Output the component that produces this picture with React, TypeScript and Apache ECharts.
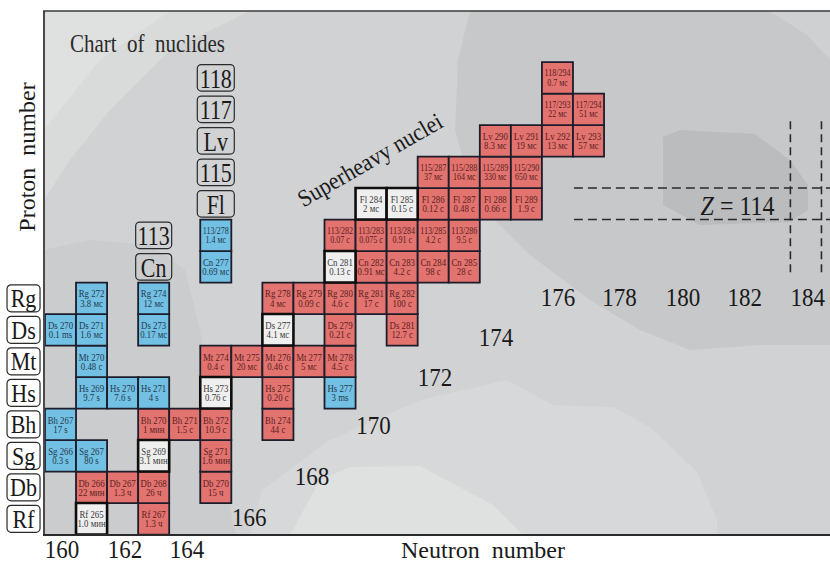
import React, { useEffect, useRef } from 'react';
import * as echarts from 'echarts';

const SERIF = "'Liberation Serif', 'Times New Roman', serif";

// Each nuclide: [neutron number N, proton number Z, name, half-life, kind]
// kind: 'b' = blue, 'r' = red, 'w' = white
const cellsZ104_105 = [
  [161, 104, 'Rf 265', '1.0 мин', 'w'],
  [163, 104, 'Rf 267', '1.3 ч', 'r'],
  [161, 105, 'Db 266', '22 мин', 'r'],
  [162, 105, 'Db 267', '1.3 ч', 'r'],
  [163, 105, 'Db 268', '26 ч', 'r'],
  [165, 105, 'Db 270', '15 ч', 'r'],
];
const cellsZ106_107 = [
  [160, 106, 'Sg 266', '0.3 s', 'b'],
  [161, 106, 'Sg 267', '80 s', 'b'],
  [163, 106, 'Sg 269', '3.1 мин', 'w'],
  [165, 106, 'Sg 271', '1.6 мин', 'r'],
  [160, 107, 'Bh 267', '17 s', 'b'],
  [163, 107, 'Bh 270', '1 мин', 'r'],
  [164, 107, 'Bh 271', '1.5 с', 'r'],
  [165, 107, 'Bh 272', '10.9 с', 'r'],
  [167, 107, 'Bh 274', '44 с', 'r'],
];
const cellsZ108_109 = [
  [161, 108, 'Hs 269', '9.7 s', 'b'],
  [162, 108, 'Hs 270', '7.6 s', 'b'],
  [163, 108, 'Hs 271', '4 s', 'b'],
  [165, 108, 'Hs 273', '0.76 с', 'w'],
  [167, 108, 'Hs 275', '0.20 с', 'r'],
  [169, 108, 'Hs 277', '3 ms', 'b'],
  [161, 109, 'Mt 270', '0.48 с', 'b'],
  [165, 109, 'Mt 274', '0.4 с', 'r'],
  [166, 109, 'Mt 275', '20 мс', 'r'],
  [167, 109, 'Mt 276', '0.46 с', 'r'],
  [168, 109, 'Mt 277', '5 мс', 'r'],
  [169, 109, 'Mt 278', '4.5 с', 'r'],
];
const cellsZ110_111 = [
  [160, 110, 'Ds 270', '0.1 ms', 'b'],
  [161, 110, 'Ds 271', '1.6 мс', 'b'],
  [163, 110, 'Ds 273', '0.17 мс', 'b'],
  [167, 110, 'Ds 277', '4.1 мс', 'w'],
  [169, 110, 'Ds 279', '0.21 с', 'r'],
  [171, 110, 'Ds 281', '12.7 с', 'r'],
  [161, 111, 'Rg 272', '3.8 мс', 'b'],
  [163, 111, 'Rg 274', '12 мс', 'b'],
  [167, 111, 'Rg 278', '4 мс', 'r'],
  [168, 111, 'Rg 279', '0.09 с', 'r'],
  [169, 111, 'Rg 280', '4.6 с', 'r'],
  [170, 111, 'Rg 281', '17 с', 'r'],
  [171, 111, 'Rg 282', '100 с', 'r'],
];
const cellsZ112_113 = [
  [165, 112, 'Cn 277', '0.69 мс', 'b'],
  [169, 112, 'Cn 281', '0.13 с', 'w'],
  [170, 112, 'Cn 282', '0.91 мс', 'r'],
  [171, 112, 'Cn 283', '4.2 с', 'r'],
  [172, 112, 'Cn 284', '98 с', 'r'],
  [173, 112, 'Cn 285', '28 с', 'r'],
  [165, 113, '113/278', '1.4 мс', 'b'],
  [169, 113, '113/282', '0.07 с', 'r'],
  [170, 113, '113/283', '0.075 с', 'r'],
  [171, 113, '113/284', '0.91 с', 'r'],
  [172, 113, '113/285', '4.2 с', 'r'],
  [173, 113, '113/286', '9.5 с', 'r'],
];
const cellsZ114_115 = [
  [170, 114, 'Fl 284', '2 мс', 'w'],
  [171, 114, 'Fl 285', '0.15 с', 'w'],
  [172, 114, 'Fl 286', '0.12 с', 'r'],
  [173, 114, 'Fl 287', '0.48 с', 'r'],
  [174, 114, 'Fl 288', '0.66 с', 'r'],
  [175, 114, 'Fl 289', '1.9 с', 'r'],
  [172, 115, '115/287', '37 мс', 'r'],
  [173, 115, '115/288', '164 мс', 'r'],
  [174, 115, '115/289', '330 мс', 'r'],
  [175, 115, '115/290', '650 мс', 'r'],
];
const cellsZ116_118 = [
  [174, 116, 'Lv 290', '8.3 мс', 'r'],
  [175, 116, 'Lv 291', '19 мс', 'r'],
  [176, 116, 'Lv 292', '13 мс', 'r'],
  [177, 116, 'Lv 293', '57 мс', 'r'],
  [176, 117, '117/293', '22 мс', 'r'],
  [177, 117, '117/294', '51 мс', 'r'],
  [176, 118, '118/294', '0.7 мс', 'r'],
];

// element labels
const leftSymbols = ['Rf', 'Db', 'Sg', 'Bh', 'Hs', 'Mt', 'Ds', 'Rg'];
const leftSymbolZ = [104, 105, 106, 107, 108, 109, 110, 111];
const leftSymbolN = 158.81;
const innerSymbols = ['Cn', '113', 'Fl', '115', 'Lv', '117', '118'];
const innerSymbolN = [163, 163, 165, 165, 165, 165, 165];
const innerSymbolZ = [112, 113, 114, 115, 116, 117, 118];

// neutron-number tick labels
const diagNumbers = ['166', '168', '170', '172', '174'];
const diagNumberN = [166.08, 168.1, 170.08, 172.06, 174.02];
const diagNumberZ = [104.04, 105.35, 106.99, 108.49, 109.78];
const topNumbers = ['176', '178', '180', '182', '184'];
const topNumberN = [176.02, 178.0, 180.04, 182.03, 184.06];
const topNumberZ = 111.05;
const bottomNumbers = ['160', '162', '164'];
const bottomNumberN = [160.05, 162.08, 164.07];
const bottomNumberZ = 103.05;

// shell closures
const shellZ = [113.5, 114.5];
const shellZFromN = 176.53;
const shellN = [183.5, 184.5];
const shellNZRange = [111.83, 116.72];

const X_MIN = 159.469;
const X_MAX = 184.775;
const Y_MIN = 103.486;
const Y_MAX = 120.12;

const CELL_FILL: Record<string, string> = { b: '#72c1e4', r: '#e3736f', w: '#efefef' };
const CELL_TEXT: Record<string, string> = { b: '#26384c', r: '#5a2222', w: '#3a3a3a' };

export default function App() {
  const ref = useRef<HTMLDivElement>(null);

  useEffect(() => {
    if (!ref.current) return;
    const chart = echarts.init(ref.current, null, { renderer: 'svg' });

    const allCells: any[] = [
      ...cellsZ104_105, ...cellsZ106_107, ...cellsZ108_109, ...cellsZ110_111,
      ...cellsZ112_113, ...cellsZ114_115, ...cellsZ116_118,
    ];

    type Lbl = { n: number; z: number; text: string; kind: string };
    const labels: Lbl[] = [];
    leftSymbols.forEach((s, i) => labels.push({ n: leftSymbolN, z: leftSymbolZ[i], text: s, kind: 'boxL' }));
    innerSymbols.forEach((s, i) => labels.push({ n: innerSymbolN[i], z: innerSymbolZ[i], text: s, kind: innerSymbolN[i] === 163 ? 'boxI3' : 'boxI5' }));
    diagNumbers.forEach((s, i) => labels.push({ n: diagNumberN[i], z: diagNumberZ[i], text: s, kind: 'num' }));
    topNumbers.forEach((s, i) => labels.push({ n: topNumberN[i], z: topNumberZ, text: s, kind: 'num' }));
    bottomNumbers.forEach((s, i) => labels.push({ n: bottomNumberN[i], z: bottomNumberZ, text: s, kind: 'num' }));
    labels.push({ n: 169.96, z: 115.4, text: 'Superheavy nuclei', kind: 'rot' });
    labels.push({ n: 181.8, z: 113.92, text: '{i|Z} = 114', kind: 'zlab' });

    const bgPolys: { pts: number[][]; fill: string }[] = [
      { pts: [[44, 11], [250, 11], [170, 50], [110, 110], [70, 160], [44, 200]], fill: '#d9dada' },
      { pts: [[44, 11], [170, 11], [100, 60], [60, 110], [44, 130]], fill: '#dfe0e0' },
      { pts: [[470, 11], [830, 11], [830, 345], [760, 345], [690, 350], [640, 330], [590, 300], [530, 255], [475, 200], [455, 130], [458, 60]], fill: '#c7c8c9' },
      { pts: [[770, 11], [830, 11], [830, 60], [807, 35]], fill: '#cfd0d2' },
      { pts: [[663, 137], [680, 130], [755, 134], [790, 160], [808, 185], [808, 210], [790, 222], [700, 225], [663, 205]], fill: '#babcbe' },
      { pts: [[44, 250], [90, 240], [150, 245], [185, 270], [200, 330], [215, 420], [235, 535], [44, 535]], fill: '#cbcccd' },
      { pts: [[250, 535], [262, 490], [330, 440], [420, 400], [507, 380], [553, 405], [613, 407], [650, 427], [697, 472], [717, 520], [717, 535]], fill: '#d7d8d9' },
      { pts: [[290, 535], [320, 480], [350, 467], [420, 466], [493, 505], [523, 535]], fill: '#dfe0e0' },
    ];

    const graphic: any[] = [
      { type: 'rect', z: 0, shape: { x: 44, y: 11, width: 786, height: 524 }, style: { fill: '#d1d2d3' } },
      ...bgPolys.map((p) => ({ type: 'polygon', z: 0, shape: { points: p.pts }, style: { fill: p.fill } })),
      { type: 'line', z: 10, shape: { x1: 44, y1: 11, x2: 44, y2: 535 }, style: { stroke: '#4a4a4a', lineWidth: 2 } },
      { type: 'line', z: 10, shape: { x1: 43, y1: 11, x2: 830, y2: 11 }, style: { stroke: '#3a3a3a', lineWidth: 1.5 } },
      { type: 'line', z: 10, shape: { x1: 43, y1: 535, x2: 830, y2: 535 }, style: { stroke: '#2a2a2a', lineWidth: 2 } },
      { type: 'text', z: 10, x: 70, y: 44, scaleY: 1.15, style: { text: 'Chart  of  nuclides', fill: '#2a2a2a', fontSize: 21, fontFamily: SERIF, align: 'left', verticalAlign: 'middle' } },
      { type: 'text', z: 10, x: 483, y: 550, style: { text: 'Neutron  number', fill: '#1a1a1a', fontSize: 24, fontFamily: SERIF, align: 'center', verticalAlign: 'middle' } },
      { type: 'text', z: 10, x: 27, y: 157, rotation: Math.PI / 2, style: { text: 'Proton  number', fill: '#1a1a1a', fontSize: 24, fontFamily: SERIF, align: 'center', verticalAlign: 'middle' } },
    ];

    const lineSeries: any[] = [
      ...shellZ.map((z) => ({
        type: 'line', z: 4, symbol: 'none', silent: true,
        data: [[shellZFromN, z], [X_MAX + 1, z]],
        lineStyle: { color: '#2a2a2a', width: 1.6, type: [9, 5] },
      })),
      ...shellN.map((n) => ({
        type: 'line', z: 4, symbol: 'none', silent: true,
        data: [[n, shellNZRange[0]], [n, shellNZRange[1]]],
        lineStyle: { color: '#2a2a2a', width: 1.6, type: [8, 5] },
      })),
    ];

    chart.setOption({
      animation: false,
      grid: { left: 44, top: 11, right: 0, bottom: 28, containLabel: false },
      xAxis: { type: 'value', min: X_MIN, max: X_MAX, show: false },
      yAxis: { type: 'value', min: Y_MIN, max: Y_MAX, show: false },
      graphic,
      series: [
        ...lineSeries,
        {
          type: 'custom',
          z: 5,
          clip: false,
          data: allCells.map((c) => [c[0], c[1]]),
          encode: { x: 0, y: 1 },
          renderItem: (params: any, api: any) => {
            const c = allCells[params.dataIndex];
            const p = api.coord([c[0], c[1]]);
            const s = api.size([1, 1]);
            const kind = c[4];
            const small = String(c[2]).includes('/');
            const fs = small ? 8.0 : 8.8;
            return {
              type: 'group',
              children: [
                {
                  type: 'rect',
                  z2: kind === 'w' ? 3 : 1,
                  shape: { x: p[0] - s[0] / 2, y: p[1] - s[1] / 2, width: s[0], height: s[1] },
                  style: { fill: CELL_FILL[kind], stroke: kind === 'w' ? '#0e0e0e' : '#1d1d2b', lineWidth: kind === 'w' ? 2.6 : 1.8 },
                },
                {
                  type: 'text', z2: 6, x: p[0], y: p[1] - 4.6, scaleY: 1.2,
                  style: { text: c[2], fill: CELL_TEXT[kind], fontSize: fs, fontFamily: SERIF, align: 'center', verticalAlign: 'middle' },
                },
                {
                  type: 'text', z2: 6, x: p[0], y: p[1] + 4.8, scaleY: 1.2,
                  style: { text: c[3], fill: CELL_TEXT[kind], fontSize: fs, fontFamily: SERIF, align: 'center', verticalAlign: 'middle' },
                },
              ],
            };
          },
        },
        {
          type: 'custom',
          z: 6,
          clip: false,
          data: labels.map((l) => [l.n, l.z]),
          encode: { x: 0, y: 1 },
          renderItem: (params: any, api: any) => {
            const l = labels[params.dataIndex];
            const p = api.coord([l.n, l.z]);
            const children: any[] = [];
            if (l.kind === 'boxL' || l.kind === 'boxI3' || l.kind === 'boxI5') {
              const w = l.kind === 'boxL' ? 33 : l.kind === 'boxI3' ? 36 : 37;
              const h = l.kind === 'boxL' ? 27 : 26.5;
              children.push({
                type: 'rect',
                shape: { x: p[0] - w / 2, y: p[1] - h / 2, width: w, height: h, r: 4 },
                style: { fill: l.kind === 'boxL' ? '#ffffff' : 'rgba(0,0,0,0)', stroke: '#2a2a2a', lineWidth: 1.2 },
              });
              children.push({
                type: 'text', x: p[0], y: p[1] + 0.5, scaleY: l.kind === 'boxL' ? 1.1 : 1.22,
                style: { text: l.text, fill: '#1a1a1a', fontSize: 22, fontFamily: SERIF, align: 'center', verticalAlign: 'middle' },
              });
            } else if (l.kind === 'num') {
              children.push({
                type: 'text', x: p[0], y: p[1], scaleY: 1.1,
                style: { text: l.text, fill: '#1a1a1a', fontSize: 23, fontFamily: SERIF, align: 'center', verticalAlign: 'middle' },
              });
            } else if (l.kind === 'rot') {
              children.push({
                type: 'text', x: p[0], y: p[1], rotation: (30 * Math.PI) / 180, scaleY: 1.1,
                style: { text: l.text, fill: '#1a1a1a', fontSize: 22, fontFamily: SERIF, align: 'center', verticalAlign: 'middle' },
              });
            } else if (l.kind === 'zlab') {
              children.push({
                type: 'text', x: p[0], y: p[1], scaleY: 1.1,
                style: {
                  text: l.text, fill: '#1a1a1a', fontSize: 24, fontFamily: SERIF, align: 'center', verticalAlign: 'middle',
                  rich: { i: { fontStyle: 'italic', fontSize: 24, fontFamily: SERIF, fill: '#1a1a1a' } },
                },
              });
            }
            return { type: 'group', children };
          },
        },
      ],
    });

    return () => chart.dispose();
  }, []);

  return <div ref={ref} style={{ position: 'fixed', left: 0, top: 0, width: 830, height: 563, background: '#ffffff' }} />;
}
